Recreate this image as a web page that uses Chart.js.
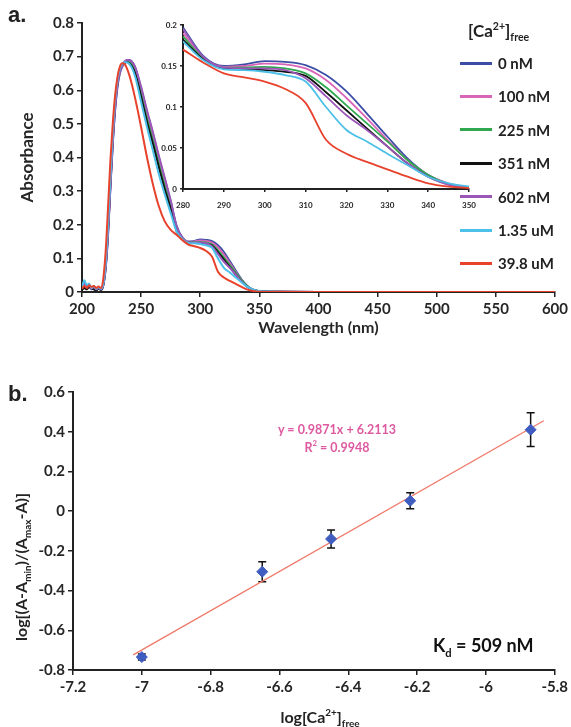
<!DOCTYPE html>
<html>
<head>
<meta charset="utf-8">
<script src="https://cdn.jsdelivr.net/npm/chart.js@4.4.1/dist/chart.umd.min.js"></script>
<style>
  body { margin: 0; background: #fff; }
  #wrap { position: relative; width: 571px; height: 727px; font-family: Lato, sans-serif; font-weight: bold; color: #222; overflow: hidden; }
  canvas { position: absolute; }
  .txt { position: absolute; white-space: nowrap; }
  sub, sup { font-size: 62%; line-height: 0; }
</style>
</head>
<body>
<div id="wrap">
  <canvas id="specChart" width="571" height="345" style="left:0;top:0"></canvas>
  <canvas id="insetChart" width="345" height="220" style="left:140px;top:5px"></canvas>
  <canvas id="fitChart" width="571" height="382" style="left:0;top:345px"></canvas>
  <div class="txt" style="left:8px;top:2px;font:bold 22px 'Liberation Sans'">a.</div>
  <div class="txt" style="left:8px;top:381px;font:bold 22px 'Liberation Sans'">b.</div>
  <div id="legend"></div>
  <div class="txt" style="left:20px;top:567px;font-size:16px;transform:translate(-50%,-50%) rotate(-90deg)">log[(A-A<sub>min</sub>)/(A<sub>max</sub>-A)]</div>
  <div class="txt" style="left:320px;top:716px;font-size:16px;transform:translate(-50%,-50%)">log[Ca<sup>2+</sup>]<sub>free</sub></div>
  <div class="txt" style="left:337px;top:429px;font-size:12.5px;color:#de5aa0;transform:translate(-50%,-50%)">y = 0.9871x + 6.2113</div>
  <div class="txt" style="left:337px;top:447px;font-size:12.5px;color:#de5aa0;transform:translate(-50%,-50%)">R<sup>2</sup> = 0.9948</div>
  <div class="txt" style="left:433px;top:634px;font-size:18px;color:#111">K<sub>d</sub> = 509 nM</div>
</div>
<script>
// wavelengths (nm)
const wavelength = [200,202,204,206,208,210,212,214,216,218,220,222,224,226,228,230,232,234,236,238,240,242,245,
  250,255,260,265,270,275,280,285,290,295,300,305,310,315,320,325,330,335,340,345,350,360,400,450,500,550,600];

// absorbance for each free Ca2+ level
const abs0nM = [.012,.03,.015,.02,.008,.012,.006,.01,.008,
  .02,.07,.17,.31,.44,.54,.61,.65,.67,.68,.688,.69,.686,.668,
  .605,.535,.47,.40,.335,.27,.197,.162,.150,.152,.156,.155,.151,.139,.119,.092,.064,.037,.017,.006,.002,
  .001,0,0,0,0,0];
const abs100nM = [.01,.02,.012,.018,.01,.014,.008,.012,.01,
  .025,.08,.18,.32,.45,.55,.615,.655,.672,.682,.686,.686,.68,.66,
  .595,.525,.46,.39,.325,.262,.190,.160,.149,.150,.153,.152,.147,.133,.111,.086,.060,.035,.017,.007,.002,
  .001,0,0,0,0,0];
const abs225nM = [.008,.015,.01,.02,.012,.01,.006,.012,.008,
  .025,.08,.19,.33,.46,.56,.62,.66,.675,.683,.685,.683,.677,.655,
  .59,.515,.45,.38,.315,.255,.186,.159,.148,.148,.149,.147,.141,.124,.102,.080,.058,.035,.017,.006,.002,
  .001,0,0,0,0,0];
const abs351nM = [.006,.012,.008,.015,.01,.008,.005,.01,.006,
  .02,.075,.18,.32,.45,.555,.62,.66,.676,.682,.684,.68,.672,.65,
  .58,.505,.44,.37,.305,.248,.182,.158,.147,.146,.145,.143,.138,.118,.096,.074,.052,.031,.015,.006,.002,
  .001,0,0,0,0,0];
const abs602nM = [.01,.025,.015,.022,.01,.015,.008,.012,.008,
  .02,.07,.17,.31,.44,.545,.615,.655,.675,.686,.69,.69,.686,.668,
  .61,.54,.475,.405,.34,.272,.195,.161,.148,.147,.147,.145,.135,.113,.090,.072,.052,.031,.015,.005,.002,
  .001,0,0,0,0,0];
const abs1350nM = [.015,.035,.02,.025,.012,.018,.01,.014,.01,
  .025,.085,.2,.34,.47,.57,.63,.665,.678,.683,.683,.678,.668,.64,
  .565,.49,.42,.35,.29,.235,.180,.157,.146,.145,.143,.139,.131,.100,.072,.058,.043,.029,.015,.007,.003,
  .001,0,0,0,0,0];
const abs39800nM = [.01,.018,.012,.02,.015,.018,.012,.016,.012,
  .04,.12,.25,.39,.5,.585,.64,.67,.68,.678,.665,.645,.62,.575,
  .49,.40,.32,.255,.21,.185,.170,.154,.141,.136,.131,.122,.105,.060,.043,.033,.024,.015,.007,.003,.001,
  0,0,0,0,0,0];

const seriesLabels = ['0 nM', '100 nM', '225 nM', '351 nM', '602 nM', '1.35 uM', '39.8 uM'];
const seriesColors = ['#3b4ea6', '#d965b8', '#2fa84f', '#111111', '#9b57b8', '#4cc0e8', '#e8412c'];
const seriesValues = [abs0nM, abs100nM, abs225nM, abs351nM, abs602nM, abs1350nM, abs39800nM];

// panel b
const logCa = [-7.0, -6.65, -6.45, -6.22, -5.87];
const ratio = [-0.735, -0.305, -0.14, 0.052, 0.41];
const ratioErr = [0.015, 0.05, 0.045, 0.04, 0.085];
const fitX = [-7.025, -5.832];
const fitY = [-0.724, 0.455];

Chart.defaults.font.family = 'Lato';
Chart.defaults.font.weight = 'bold';
Chart.defaults.color = '#262626';

function fmt(v) { return String(+v.toFixed(2)); }

function axis(min, max, step, size, fit, extra) {
    return Object.assign({
        type: 'linear', min: min, max: max,
        border: { color: '#222', width: 2 },
        grid: { drawOnChartArea: false, color: '#222', lineWidth: 1.5, tickLength: 5 },
        ticks: { stepSize: step, font: { size: size }, callback: fmt, maxRotation: 0 },
        afterFit: fit
    }, extra || {});
}

// main spectra
const specSets = seriesValues.map((vals, i) => ({
    label: seriesLabels[i],
    data: wavelength.map((w, j) => ({ x: w, y: vals[j] })),
    borderColor: seriesColors[i],
    borderWidth: 2,
    pointRadius: 0,
    cubicInterpolationMode: 'monotone',
    order: seriesValues.length - i
}));

new Chart(document.getElementById('specChart'), {
    type: 'line',
    data: { datasets: specSets },
    options: {
        responsive: false, animation: false,
        layout: { padding: { top: 23, right: 14, left: 0, bottom: 0 } },
        plugins: { legend: { display: false }, tooltip: { enabled: false } },
        scales: {
            x: axis(200, 600, 50, 15, s => { s.height = 53; }, {
                title: { display: true, text: 'Wavelength (nm)', font: { size: 16 }, padding: { top: 0, bottom: 8 } }
            }),
            y: axis(0, 0.8, 0.1, 15, s => { s.width = 82; }, {
                title: { display: true, text: 'Absorbance', font: { size: 17 }, padding: { top: 17, bottom: 0 } }
            })
        }
    }
});

// inset, 280-350 nm
const insetSets = seriesValues.map((vals, i) => ({
    data: wavelength.map((w, j) => ({ x: w, y: vals[j] })).filter(p => p.x >= 280 && p.x <= 350),
    borderColor: seriesColors[i],
    borderWidth: 1.8,
    pointRadius: 0,
    cubicInterpolationMode: 'monotone',
    order: seriesValues.length - i
}));

const insetX = axis(280, 350, 10, 8, s => { s.height = 36; });
const insetY = axis(0, 0.2, 0.05, 8, s => { s.width = 43; });
insetX.grid.tickLength = 3; insetY.grid.tickLength = 3;
insetX.ticks.padding = 9; insetY.ticks.padding = 3;

new Chart(document.getElementById('insetChart'), {
    type: 'line',
    data: { datasets: insetSets },
    options: {
        responsive: false, animation: false,
        layout: { padding: { top: 20, right: 14, left: 0, bottom: 0 } },
        plugins: { legend: { display: false }, tooltip: { enabled: false } },
        scales: { x: insetX, y: insetY }
    }
});

// legend as html
const legend = document.getElementById('legend');
let html = '<div class="txt" style="left:468px;top:20px;font-size:17px">[Ca<sup>2+</sup>]<sub>free</sub></div>';
seriesLabels.forEach((lab, i) => {
    const cy = 63 + i * 33.4;
    html += '<div class="txt" style="left:460px;top:' + (cy - 1.5) + 'px;width:32px;height:3px;background:' + seriesColors[i] + '"></div>';
    html += '<div class="txt" style="left:498px;top:' + (cy - 10) + 'px;font-size:15px;line-height:20px">' + lab + '</div>';
});
legend.innerHTML = html;

// error bars under the markers
const errorBars = {
    id: 'errorBars',
    beforeDatasetsDraw(chart) {
        const { ctx, scales: { x, y } } = chart;
        ctx.save();
        ctx.strokeStyle = '#111';
        ctx.lineWidth = 1.5;
        logCa.forEach((v, i) => {
            const px = x.getPixelForValue(v);
            const top = y.getPixelForValue(ratio[i] + ratioErr[i]);
            const bot = y.getPixelForValue(ratio[i] - ratioErr[i]);
            ctx.beginPath();
            ctx.moveTo(px, top); ctx.lineTo(px, bot);
            ctx.moveTo(px - 4, top); ctx.lineTo(px + 4, top);
            ctx.moveTo(px - 4, bot); ctx.lineTo(px + 4, bot);
            ctx.stroke();
        });
        ctx.restore();
    }
};

new Chart(document.getElementById('fitChart'), {
    type: 'scatter',
    data: {
        datasets: [{
            data: logCa.map((v, i) => ({ x: v, y: ratio[i] })),
            pointStyle: 'rectRot',
            pointRadius: 5.5,
            backgroundColor: '#3f5cc0',
            borderColor: '#3f5cc0',
            order: 0
        }, {
            type: 'line',
            data: fitX.map((v, i) => ({ x: v, y: fitY[i] })),
            borderColor: '#f07a6a',
            borderWidth: 1.3,
            pointRadius: 0,
            order: 1
        }]
    },
    options: {
        responsive: false, animation: false,
        layout: { padding: { top: 47, right: 14, left: 0, bottom: 0 } },
        plugins: { legend: { display: false }, tooltip: { enabled: false } },
        scales: {
            x: axis(-7.2, -5.8, 0.2, 15, s => { s.height = 57; }),
            y: axis(-0.8, 0.6, 0.2, 15, s => { s.width = 73; })
        }
    },
    plugins: [errorBars]
});
</script>
</body>
</html>
